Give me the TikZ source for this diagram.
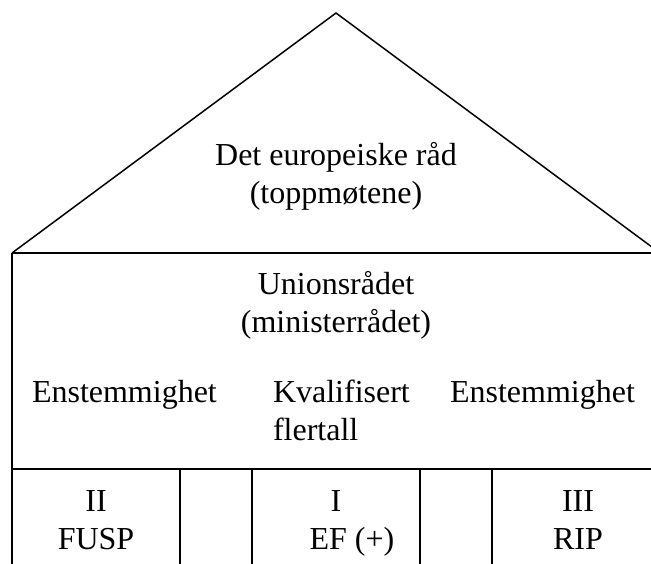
\documentclass[tikz,border=0pt]{standalone}
\usepackage{fontspec}
\setmainfont{Liberation Serif}
\usetikzlibrary{positioning}

\begin{document}
\begin{tikzpicture}[x=1pt, y=-1pt]%
  \tikzset{wall line/.style={draw, line width=2pt, black}}
  \tikzset{roof line/.style={draw, line width=1.5pt, black}}
  \tikzstyle{every node}=[draw=none, inner sep=0pt, outer sep=0pt, align=center, font=\fontsize{32}{38}\selectfont]

  \useasboundingbox (0,0) rectangle (651,563);
  \clip (0,0) rectangle (651,563);

  % roof and walls
  \coordinate (eaveL) at (12,253);
  \coordinate (apex) at (336,13);
  \coordinate (eaveR) at (660,253);
  \coordinate (floorL) at (12,469);
  \coordinate (floorR) at (660,469);
  \coordinate (baseL) at (12,570);
  \path[roof line] (eaveL) -- (apex) -- (eaveR);
  \path[wall line] (eaveL) -- (eaveR);
  \path[wall line] (eaveL) -- (baseL);
  \path[wall line] (floorL) -- (floorR);
  \foreach \x in {180,252,420,492}
    \path[wall line] (\x,469) -- (\x,570);

  % texts (base = last line)
  \node[anchor=base] (council) at (336,203) {Det europeiske råd\\(toppmøtene)};
  \node[anchor=base] (union) at (336,332) {Unionsrådet\\(ministerrådet)};
  \node[anchor=base west] (unanL) at (32,402) {Enstemmighet};
  \node[anchor=base west, align=left] (qmv) at (273,440) {Kvalifisert\\flertall};
  \node[anchor=base west] (unanR) at (450,402) {Enstemmighet};
  \node[anchor=base] (pillarII) at (96,549) {II\\FUSP};
  \node[anchor=base] (pillarI) at (336,549) {I\\\hspace*{1em}EF (+)};
  \node[anchor=base] (pillarIII) at (578,549) {III\\RIP};
\end{tikzpicture}
\end{document}
